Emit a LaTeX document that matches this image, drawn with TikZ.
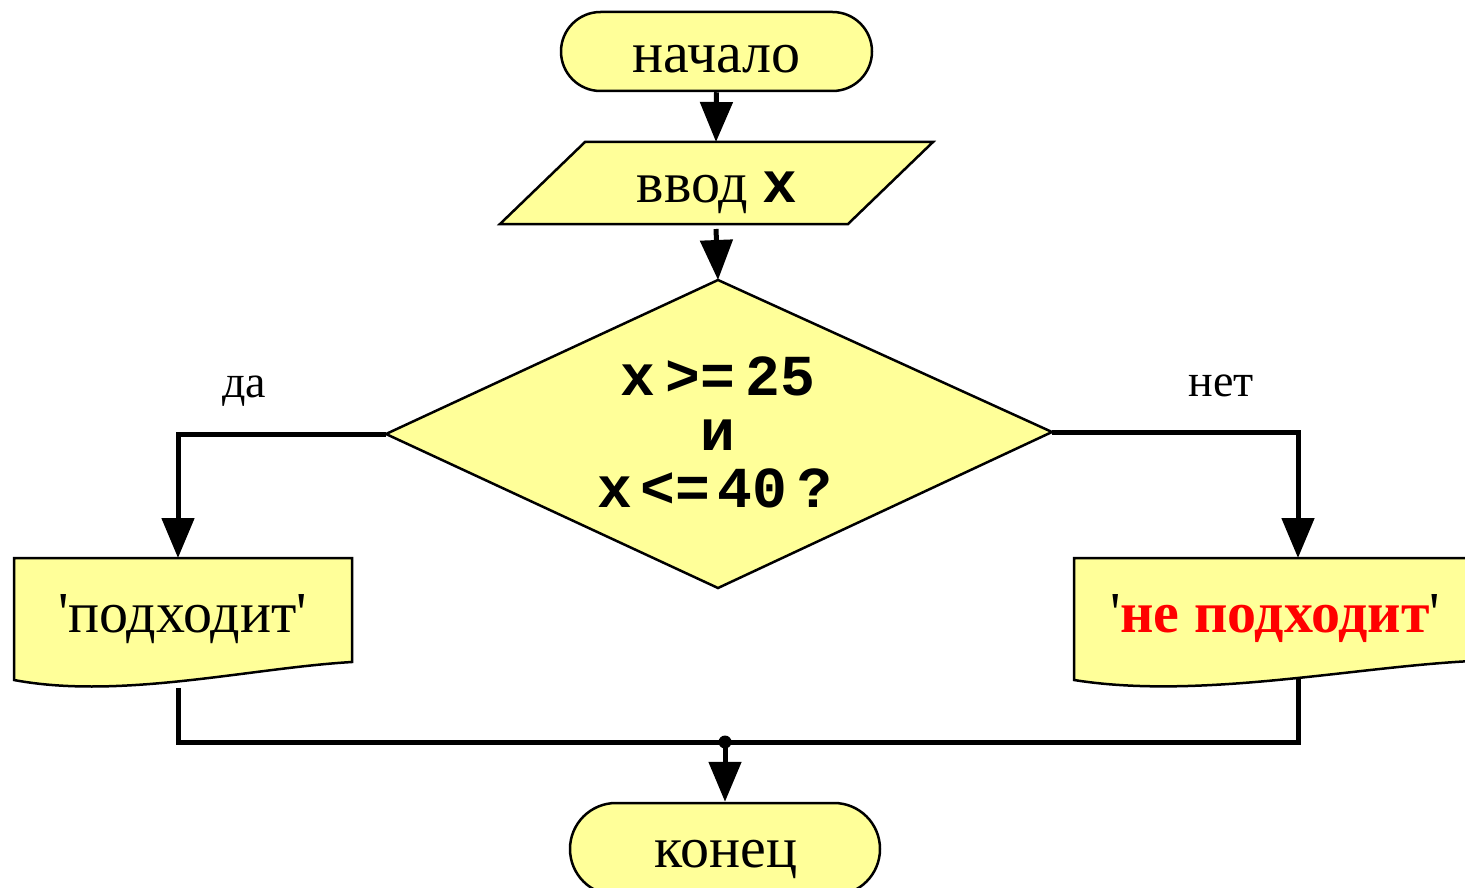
\documentclass[tikz,border=0pt]{standalone}
\usepackage{fontspec}
\setmainfont{Liberation Serif}
\setmonofont{Liberation Mono}
\newfontfamily\qfont{Liberation Serif}
\usetikzlibrary{arrows.meta,shapes.misc}
\definecolor{fillY}{HTML}{FFFF99}
\newcommand{\sq}{{\qfont\symbol{"27}}}
\tikzset{
  shapeline/.style={draw=black, line width=2.5pt, fill=fillY, line join=miter},
  term/.style={shapeline, rounded rectangle, inner sep=0pt},
  conn/.style={line width=5pt, line join=miter, -{Triangle[length=40pt,width=32pt]}},
  wire/.style={line width=5pt, line join=miter},
  maintext/.style={font=\fontsize{58}{60}\selectfont, anchor=base, inner sep=0pt},
  condtext/.style={font=\fontsize{58}{60}\selectfont\ttfamily\bfseries, anchor=base, inner sep=0pt},
  labeltext/.style={font=\fontsize{46}{48}\selectfont, anchor=base, inner sep=0pt},
}
\begin{document}
\begin{tikzpicture}[x=1pt,y=-1pt]
\useasboundingbox (0,0) rectangle (1465,888);

% start terminal
\node[term, minimum width=311pt, minimum height=79pt] (start) at (716.5,51.5) {};
\node[maintext] (startT) at (716.5,73) {начало};

% input parallelogram
\coordinate (pTL) at (585,142);
\coordinate (pTR) at (933,142);
\coordinate (pBR) at (848,224);
\coordinate (pBL) at (500,224);
\path[shapeline] (pTL) -- (pTR) -- (pBR) -- (pBL) -- cycle;
\node[maintext] (inT) at (717,203) {ввод {\ttfamily\bfseries x}};
\coordinate (inTop) at (716,142);
\coordinate (inOut) at (716,229);

% decision diamond
\coordinate (dT) at (718,280);
\coordinate (dR) at (1052,432);
\coordinate (dB) at (718,588);
\coordinate (dL) at (386,434);
\path[shapeline] (dT) -- (dR) -- (dB) -- (dL) -- cycle;
\node[condtext] (c1) at (718,395) {x\hspace{10pt}>=\hspace{10pt}25};
\node[condtext] (c2) at (718,450) {и};
\node[condtext] (c3) at (715,507) {x\hspace{8pt}<=\hspace{8pt}40\hspace{10pt}?};

% branch labels
\node[labeltext] (yesL) at (244,397) {да};
\node[labeltext] (noL) at (1221,396) {нет};

% left document
\path[shapeline] (14,558) -- (352,558) -- (352,662)
   .. controls (250,668) and (120,700) .. (14,680) -- cycle;
\node[maintext] (yesT) at (182.5,632) {\sq подходит\sq};
\coordinate (yesTop) at (178,558);
\coordinate (yesOut) at (178,688);

% right document
\path[shapeline] (1074,558) -- (1472,558) -- (1472,661)
   .. controls (1352,667) and (1199,700) .. (1074,680) -- cycle;
\node[maintext] (noT) at (1275,632) {\sq\textcolor{red}{\bfseries не подходит}\sq};
\coordinate (noTop) at (1298,558);
\coordinate (noOut) at (1298,678);

% end terminal
\node[term, minimum width=310pt, minimum height=92pt] (stop) at (725,849) {};
\node[maintext] (stopT) at (726,867) {конец};

% junction
\coordinate (jL) at (178,742);
\coordinate (jR) at (1298,742);
\coordinate (jM) at (725,742);

% connectors
\draw[conn] (start.south) -- (inTop);
\draw[conn] (inOut) -- (dT);
\draw[conn] (dL) -- (178,434) -- (yesTop);
\draw[conn] (dR) -- (1298,432) -- (noTop);
\draw[wire] (yesOut) -- (jL) -- (jR) -- (noOut);
\fill (jM) circle (6.5pt);
\draw[conn] (jM) -- (stop.north);
\end{tikzpicture}
\end{document}
